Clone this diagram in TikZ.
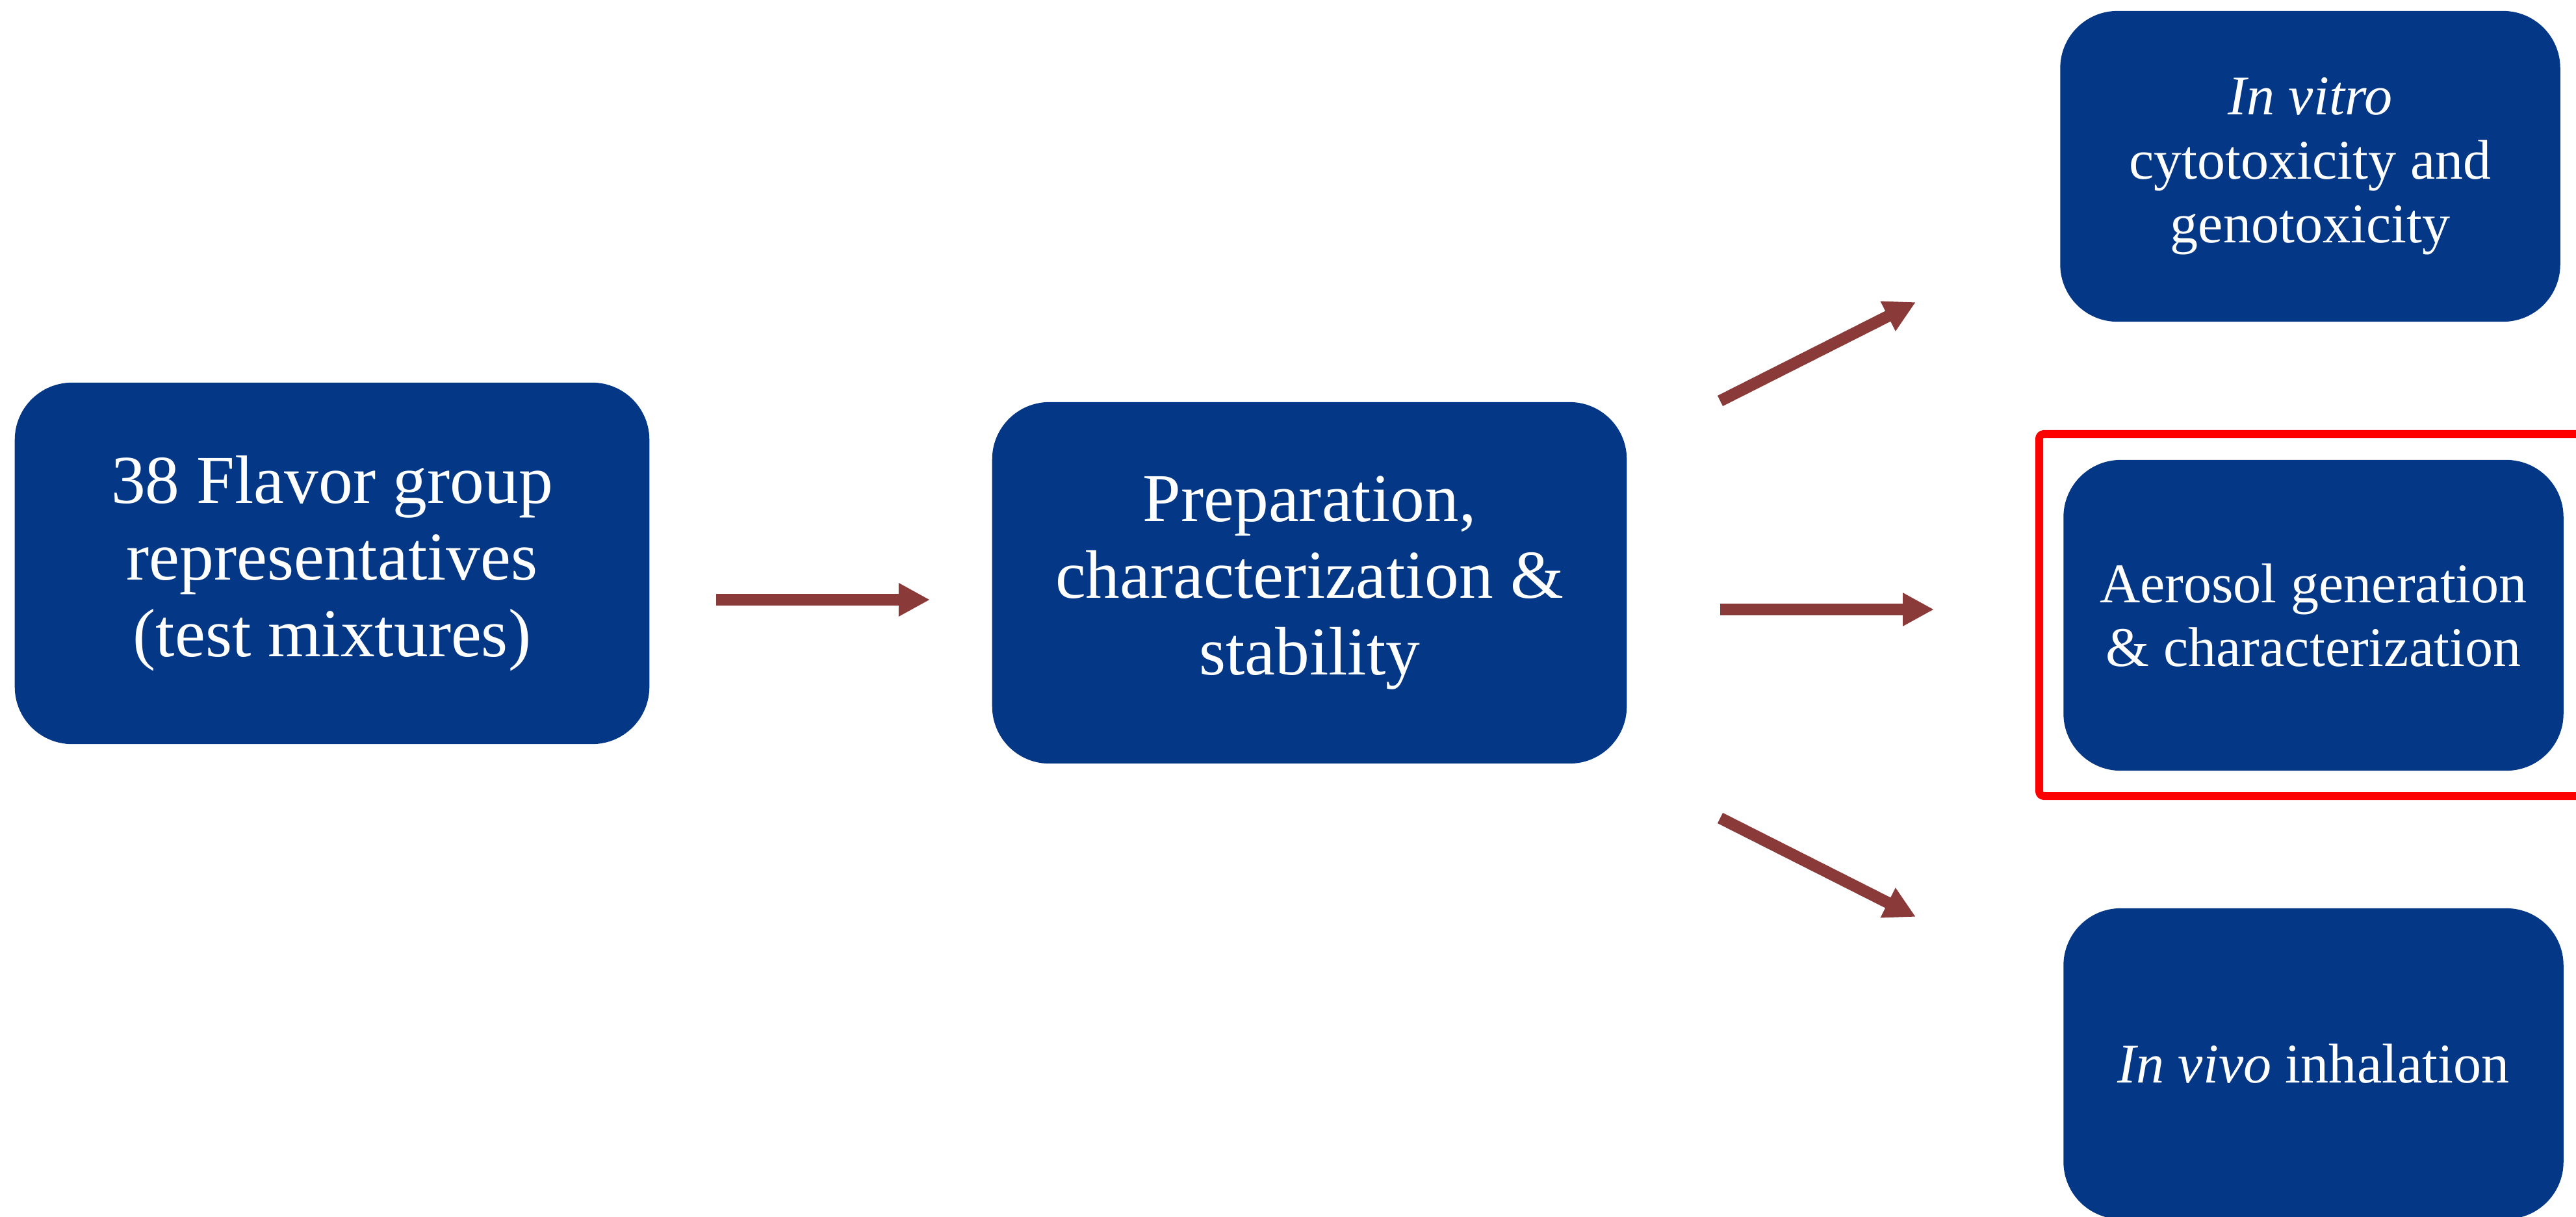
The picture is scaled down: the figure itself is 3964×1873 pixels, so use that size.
\documentclass[tikz,border=0pt]{standalone}
\usepackage{fontspec}
\setmainfont{Liberation Serif}
\usetikzlibrary{arrows.meta}

\definecolor{stageblue}{RGB}{4,56,135}
\definecolor{flowred}{RGB}{139,58,58}

\tikzset{
    stage/.style={fill=stageblue, text=white, rounded corners=0.88cm, align=center, inner sep=0pt},
    bigstage/.style={stage, minimum width=9.76cm, minimum height=5.56cm, font=\fontsize{30}{33.5}\selectfont},
    smallstage/.style={stage, minimum width=7.69cm, minimum height=4.78cm, font=\fontsize{24.5}{28}\selectfont},
    flow/.style={-{Triangle[length=0.48cm, width=0.48cm]}, line width=0.18cm, flowred},
}

\begin{document}
\begin{tikzpicture}[x=0.01cm, y=-0.01cm]
            \useasboundingbox (0,0) rectangle (3964,1873);
            \node[bigstage] (mixtures) at (511,867) {38 Flavor group\\representatives\\(test mixtures)};
            \node[bigstage] (prep) at (2015,897) {Preparation,\\characterization \&\\stability};
            \node[smallstage] (vitro) at (3555,256) {\textit{In vitro}\\cytotoxicity and\\genotoxicity};
            \node[smallstage] (aerosol) at (3560,947) {Aerosol generation\\\& characterization};
            \node[smallstage] (vivo) at (3560,1637) {\textit{In vivo} inhalation};
            % highlight around the aerosol step
            \draw[red, line width=0.12cm, rounded corners=2pt] (3138,668) rectangle (4010,1225);
            % arrow ends
            \coordinate (a1) at (1102,923);
            \coordinate (b1) at (1431,923);
            \coordinate (a2) at (2647,938);
            \coordinate (b2) at (2976,938);
            \coordinate (a3) at (2647,617);
            \coordinate (b3) at (2948,465);
            \coordinate (a4) at (2647,1259);
            \coordinate (b4) at (2948,1411);
            \draw[flow] (a1) -- (b1);
            \draw[flow] (a2) -- (b2);
            \draw[flow] (a3) -- (b3);
            \draw[flow] (a4) -- (b4);
        \end{tikzpicture}
\end{document}
